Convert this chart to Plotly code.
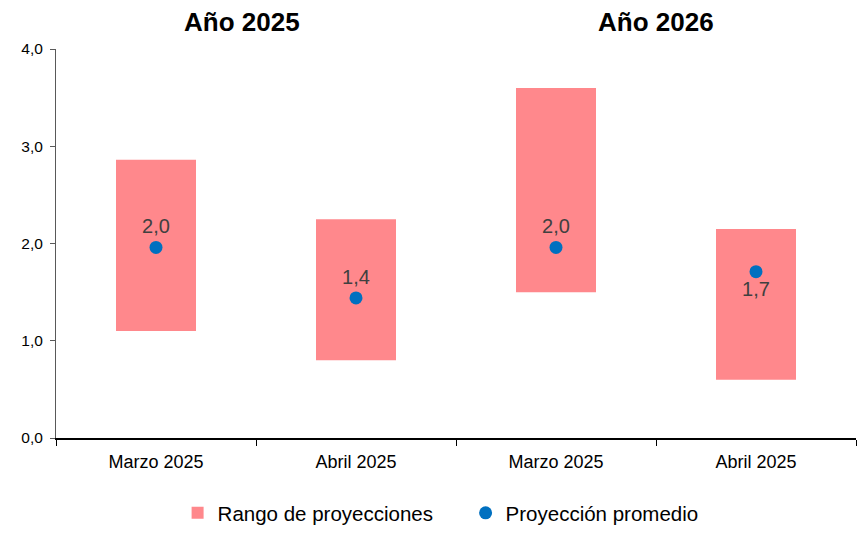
import plotly.graph_objects as go

# projections: range (min/max) and average, by survey month and target year
periodos = ["Marzo 2025", "Abril 2025", "Marzo 2025", "Abril 2025"]
minimo = [1.1, 0.8, 1.5, 0.6]
maximo = [2.86, 2.25, 3.6, 2.15]
promedio = [1.96, 1.44, 1.96, 1.71]
anios = ["Año 2025", "Año 2026"]

xpos = list(range(len(periodos)))
rango = [hi - lo for lo, hi in zip(minimo, maximo)]

fig = go.Figure()
fig.add_trace(go.Bar(x=xpos, y=rango, base=minimo, width=0.4,
                     marker=dict(color="#FF888C", line=dict(width=0)),
                     name="Rango de proyecciones", hoverinfo="skip"))
fig.add_trace(go.Scatter(x=xpos, y=promedio, mode="markers+text",
                         marker=dict(color="#0070C0", size=13),
                         texttemplate="%{y:.1f}",
                         textposition=["top center", "top center", "top center", "bottom center"],
                         textfont=dict(size=20, color="#404040"),
                         name="Proyección promedio"))

title_shift = [-14, 0]
for i, a in enumerate(anios):
    fig.add_annotation(x=2 * i + 0.5, y=1.0, xref="x", yref="paper", yanchor="middle",
                       yshift=27, xshift=title_shift[i], text="<b>" + a + "</b>",
                       showarrow=False, font=dict(size=26, color="black"))

fig.update_layout(
    width=860, height=533,
    margin=dict(l=56, r=4, t=49, b=95),
    plot_bgcolor="white", paper_bgcolor="white",
    font=dict(family="Liberation Sans, Arial", color="black"),
    separators=",.",
    showlegend=True,
    legend=dict(orientation="h", x=0.152, xanchor="left", y=0, yref="container",
                yanchor="bottom", font=dict(size=20.5), itemwidth=30, entrywidth=243),
    xaxis=dict(range=[-0.5, 3.5], tickvals=xpos, ticktext=periodos, ticks="",
               showline=True, linecolor="black", linewidth=1.5, showgrid=False,
               zeroline=False, tickfont=dict(size=18), automargin=False,
               ticklabelstandoff=7,
               minor=dict(tickvals=[-0.5, 0.5, 1.5, 2.5, 3.5], ticks="outside",
                          ticklen=6, tickcolor="black", showgrid=False)),
    yaxis=dict(range=[0, 4], tickvals=[0, 1, 2, 3, 4], tickformat=".1f",
               ticks="outside", ticklen=5, tickcolor="#595959",
               showline=True, linecolor="#595959", showgrid=False, zeroline=False,
               tickfont=dict(size=15.5), automargin=False, ticklabelstandoff=4),
)

# drop the default page margin so the figure sits at the window origin
fig.write_html("out.html", config={"displayModeBar": False},
               post_script="document.body.style.margin='0px';")
